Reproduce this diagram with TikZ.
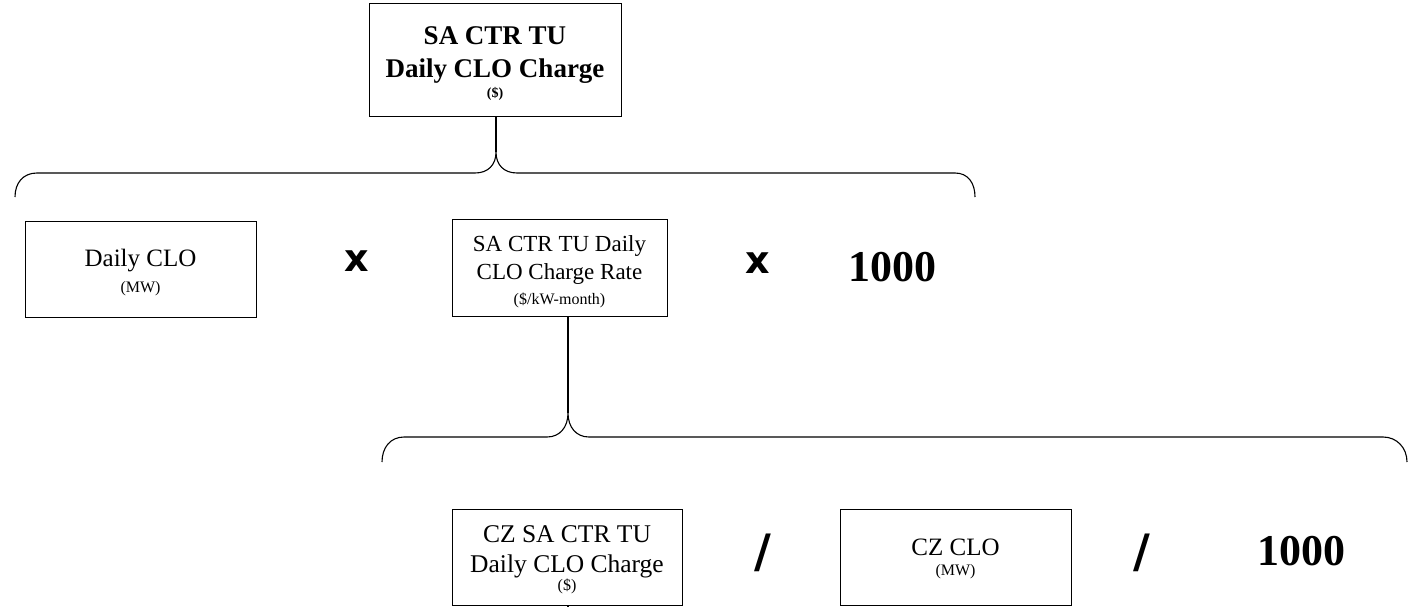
\documentclass[tikz,border=0pt]{standalone}
\usepackage{fontspec}
\setmainfont{Liberation Serif}
\newfontfamily\opfont{DejaVu Sans}
\newcommand\pushdn[1]{\raisebox{#1}{\vphantom{Al}}}
\tikzset{
  x=1pt,y=-1pt,
  box/.style={draw, line width=1pt, rectangle, inner sep=0pt, align=center, anchor=center},
  conn/.style={draw, line width=1.1pt},
  opsym/.style={font=\opfont\bfseries\fontsize{38}{40}\selectfont, inner sep=0pt},
  slashsym/.style={font=\opfont\bfseries\fontsize{46}{48}\selectfont, inner sep=0pt},
  num/.style={font=\bfseries\fontsize{44}{48}\selectfont, inner sep=0pt}
}
\begin{document}
\begin{tikzpicture}
\useasboundingbox (0,0) rectangle (1410,607);
% boxes
\node[box, minimum width=252pt, minimum height=113pt, font=\bfseries\fontsize{27}{33}\selectfont] (top) at (495,60.5)
  {\pushdn{6pt}SA CTR TU\\
   Daily CLO Charge\\[-13pt]
   {\fontsize{14}{16}\selectfont (\$)}};
\node[box, minimum width=231pt, minimum height=96pt, font=\fontsize{25}{25}\selectfont] (dclo) at (140.5,269)
  {\pushdn{8pt}Daily CLO\\[1pt]
   {\fontsize{16}{18}\selectfont (MW)}};
\node[box, minimum width=215pt, minimum height=97pt, font=\fontsize{23}{28}\selectfont] (rate) at (559.5,267.5)
  {\pushdn{9pt}SA CTR TU Daily\\
   CLO Charge Rate\\[-3pt]
   {\fontsize{16}{18}\selectfont (\$/kW-month)}};
\node[box, minimum width=230pt, minimum height=96pt, font=\fontsize{25.5}{30}\selectfont] (czsa) at (567,557)
  {\pushdn{5pt}CZ SA CTR TU\\
   Daily CLO Charge\\[-12pt]
   {\fontsize{16}{18}\selectfont (\$)}};
\node[box, minimum width=231pt, minimum height=96pt, font=\fontsize{25}{25}\selectfont] (czclo) at (955.5,557)
  {\pushdn{3pt}CZ CLO\\[-4.5pt]
   {\fontsize{16}{18}\selectfont (MW)}};
% operators
\node[opsym] (x1) at (357,261) {x};
\node[opsym] (x2) at (758,263) {x};
\node[num] (n1) at (892,267) {1000};
\node[slashsym] (s1) at (763,553) {/};
\node[slashsym] (s2) at (1142,553) {/};
\node[num] (n2) at (1301,551) {1000};
% brace tips
\coordinate (b1) at (496,152);
\coordinate (b2) at (568,413);
\coordinate (c3) at (568,607);
% top brace
\draw[conn] (top.south -| b1) -- (b1);
\draw[conn] (15,197) .. controls (15,183) and (23,173) .. (37,173) -- (475,173)
  .. controls (488,173) and (496,165) .. (b1)
  .. controls (496,165) and (504,173) .. (517,173) -- (955,173)
  .. controls (968,173) and (975,183) .. (975,197);
% bottom brace
\draw[conn] (rate.south -| b2) -- (b2);
\draw[conn] (382,462) .. controls (382,448) and (390,437) .. (404,437) -- (547,437)
  .. controls (560,437) and (568,427) .. (b2)
  .. controls (568,427) and (576,437) .. (589,437) -- (1383,437)
  .. controls (1397,437) and (1407,448) .. (1407,462);
% stub below
\draw[conn] (czsa.south -| c3) -- (c3);
\end{tikzpicture}
\end{document}
